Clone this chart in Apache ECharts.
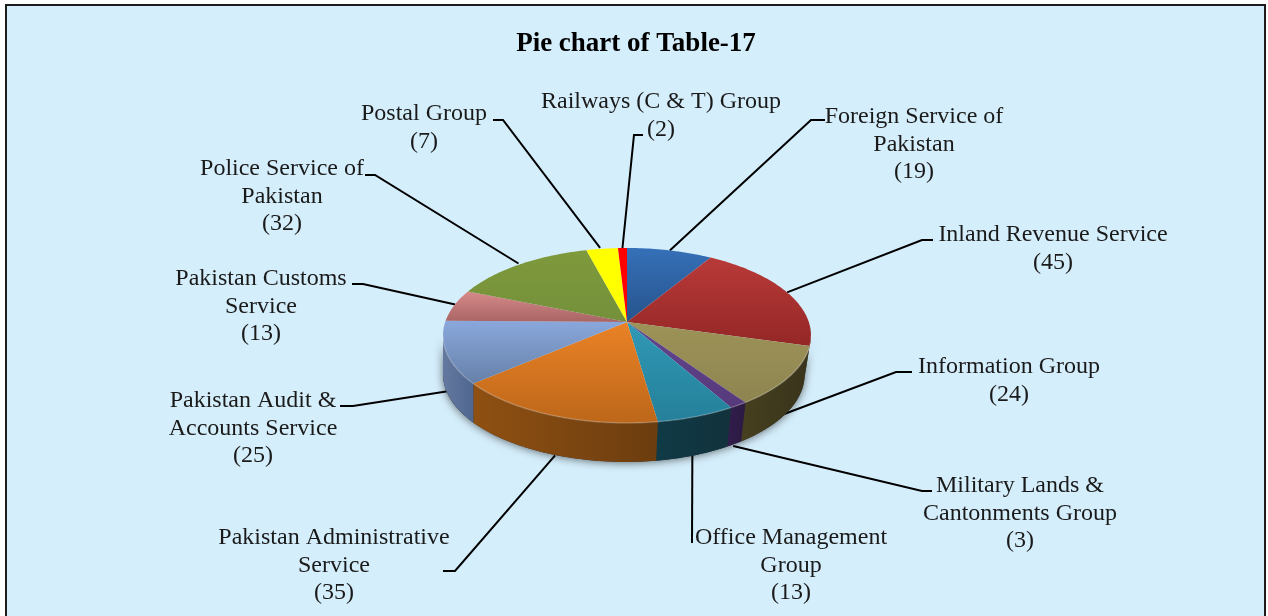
<!DOCTYPE html>
<html>
<head>
<meta charset="utf-8">
<style>html,body{margin:0;padding:0;background:#fff}#c{width:1268px;height:616px}</style>
<script src="https://cdn.jsdelivr.net/npm/echarts@6/dist/echarts.min.js"></script>
</head>
<body>
<div id="c"></div>
<script>
// ---- data ----
const titleText = 'Pie chart of Table-17';
const categories = ['Foreign Service of\nPakistan','Inland Revenue Service','Information Group','Military Lands &\nCantonments Group','Office Management\nGroup','Pakistan Administrative\nService','Pakistan Audit &\nAccounts Service','Pakistan Customs\nService','Police Service of\nPakistan','Postal Group','Railways (C & T) Group'];
const values = [19,45,24,3,13,35,25,13,32,7,2];
// ---- colours: top face (light, dark), wall (light, dark) ----
const topLight = ['#3570b8','#b83a38','#9d9358','#63458c','#3099b6','#ea8226','#8aa8dc','#d88a8a','#7f9a3c','#ffff00','#ff0000'];
const topDark  = ['#27548c','#942726','#8e8450','#563a7c','#25809a','#bd671a','#6680a8','#a86464','#74903a','#ffff00','#ff0000'];
const wallLight= ['#1c3c64','#46401f','#46401f','#311d4c','#0f3a46','#8f5012','#64799f','#7c4a4a','#556a28','#a8a800','#a80000'];
const wallDark = ['#1c3c64','#46401f','#38331b','#2b1a42','#12323c','#6c3d0f','#4f6690','#7c4a4a','#556a28','#a8a800','#a80000'];
// ---- layout (not data) ----
const cx=627, apexY=322, A=181.8, B=85.4, K=0.154, DEPTH=39;
const labelCenters=[[914,103],[1053,221],[1009,353],[1020,472],[791,524],[334,524],[253,387],[261,265],[282,155],[424,100],[661,88]];
const elbows=[
 [[825,120],[811,120]],[[933,240],[922,240]],[[912,372],[896,372]],[[932,491],[922,491]],
 [[692,543]],[[443,571],[455,571]],[[340,406],[353,406]],[[352,284],[363,284]],[[365,175],[375,175]],[[493,120],[503,120]],[[643,135],[634,135]]];
const anchorNudge=[[0,0],[0,0],[-1,-1],[-1,2],[-1,0],[3,1],[6,-1],[1,-1],[-1,-1],[-2,-1],[0,0]];
// ---- geometry helpers ----
const total=values.reduce((a,b)=>a+b,0);
const startAngles=[];values.reduce((s,v,i)=>{startAngles[i]=s;return s+v;},0);
const toRad=v=>v/total*2*Math.PI;
function proj(t,dy){
  const u=Math.sin(t),v=-Math.cos(t),d=1-K*v;
  let x=cx+A*u/d;
  if(dy) x-=Math.max(0,x-600)*0.03;
  return [x,apexY+B*v/d+(dy||0)];
}
function arc(t0,t1,dy){const n=Math.max(2,Math.ceil((t1-t0)/0.02)),p=[];for(let i=0;i<=n;i++)p.push(proj(t0+(t1-t0)*i/n,dy));return p;}
const wallMin=Math.acos(-K), wallMax=2*Math.PI-wallMin;
const grad=(a,b)=>({type:'linear',x:0,y:0,x2:0,y2:1,colorStops:[{offset:0,color:a},{offset:1,color:b}]});
const gradH=(a,b)=>({type:'linear',x:0,y:0,x2:1,y2:0,colorStops:[{offset:0,color:a},{offset:1,color:b}]});

function renderWall(params){
  const i=params.dataIndex, children=[];
  if(i===0){
    const sil=arc(wallMin,wallMax,0).concat(arc(wallMin,wallMax,DEPTH).reverse());
    children.push({type:'polygon',shape:{points:sil},style:{fill:'#333',shadowBlur:9,shadowColor:'rgba(0,0,0,0.55)',shadowOffsetY:1}});
  }
  const t0=Math.max(toRad(startAngles[i]),wallMin), t1=Math.min(toRad(startAngles[i]+values[i]),wallMax);
  if(t1>t0){
    const pts=arc(t0,t1,0).concat(arc(t0,t1,DEPTH).reverse());
    children.push({type:'polygon',shape:{points:pts},style:{fill:gradH(wallLight[i],wallDark[i])}});
  }
  return {type:'group',children};
}
function renderTop(params){
  const i=params.dataIndex;
  const t0=toRad(startAngles[i]), t1=toRad(startAngles[i]+values[i]);
  const rim=arc(t0,t1,0);
  const children=[{type:'polygon',shape:{points:[[cx,apexY]].concat(rim)},style:{fill:grad(topLight[i],topDark[i])}}];
  const a=Math.max(t0,wallMin), b=Math.min(t1,wallMax);
  if(b>a) children.push({type:'polyline',shape:{points:arc(a,b,0)},style:{fill:null,stroke:'rgba(255,255,255,0.22)',lineWidth:1.5}});
  return {type:'group',children};
}
function renderLabel(params){
  const i=params.dataIndex, mid=toRad(startAngles[i]+values[i]/2);
  const front=Math.cos(mid)<-K;
  const p=proj(mid,front?DEPTH:0);
  const anchor=[p[0]+anchorNudge[i][0],p[1]+anchorNudge[i][1]];
  const c=labelCenters[i];
  return {type:'group',children:[
    {type:'polyline',shape:{points:elbows[i].concat([anchor])},style:{fill:null,stroke:'#000',lineWidth:2}},
    {type:'text',style:{text:categories[i]+'\n('+values[i]+')',x:c[0],y:c[1],align:'center',verticalAlign:'top',
      fontFamily:'Liberation Serif',fontSize:24,lineHeight:27.6,fill:'#1a1a1a'}}
  ]};
}
const chart=echarts.init(document.getElementById('c'),null,{renderer:'canvas'});
const seriesData=values.map((v,i)=>({name:categories[i],value:v}));
chart.setOption({
  animation:false,
  backgroundColor:'#ffffff',
  title:{text:titleText,left:631,top:26,textAlign:'center',textStyle:{fontFamily:'Liberation Serif',fontWeight:'bold',fontSize:27,color:'#000'}},
  graphic:[{type:'rect',z:-10,shape:{x:6,y:5,width:1259,height:625},style:{fill:'#d5eefb',stroke:'#1c1c1c',lineWidth:2}}],
  series:[
    {type:'custom',coordinateSystem:'none',silent:true,z:2,renderItem:renderWall,data:seriesData},
    {type:'custom',coordinateSystem:'none',silent:true,z:3,renderItem:renderTop,data:seriesData},
    {type:'custom',coordinateSystem:'none',silent:true,z:1,renderItem:renderLabel,data:seriesData}
  ]
});
</script>
</body>
</html>
